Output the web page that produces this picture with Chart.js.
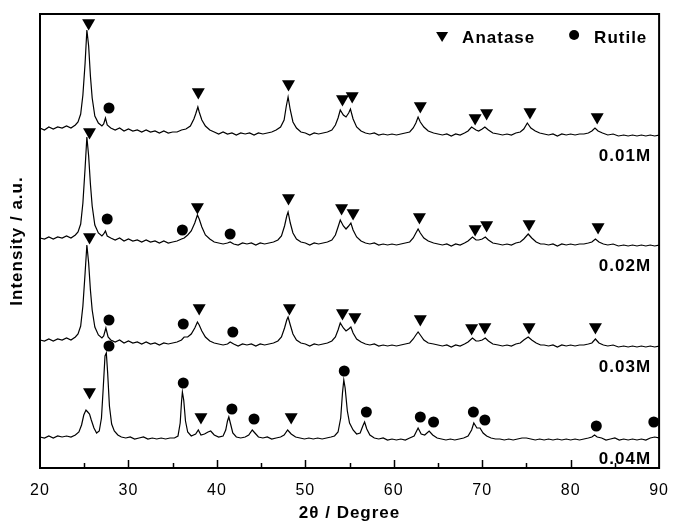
<!DOCTYPE html>
<html>
<head>
<meta charset="utf-8">
<script src="https://cdn.jsdelivr.net/npm/chart.js@4.4.1/dist/chart.umd.min.js"></script>
<style>
  html, body { margin: 0; padding: 0; background: #fff; }
  #wrap { width: 673px; height: 521px; }
</style>
</head>
<body>
<div id="wrap"><canvas id="xrd"></canvas></div>
<script>
// XRD patterns: [2theta, intensity (a.u., stacked)]
const sampleLabels = ["0.01M", "0.02M", "0.03M", "0.04M"];

const pattern01 = [[20,340],[20.5,338],[21,341],[21.5,339],[22,341],[22.5,340],[23,342],[23.5,340],[24,343],[24.3,346],[24.6,354],[24.85,373],[25.1,405],[25.3,438],[25.5,422],[25.7,392],[25.9,370],[26.2,352],[26.6,345],[27.0,342],[27.2,344],[27.4,350],[27.6,343],[28.0,340],[28.5,338],[29,340],[29.5,337],[30,339],[30.5,337],[31,338],[31.5,336],[32,338],[32.5,336],[33,337],[33.5,335],[34,337],[34.5,335],[35,336],[35.5,336],[36,338],[36.5,339],[37.0,342],[37.4,349],[37.6,354],[37.85,361],[38.0,356],[38.3,348],[38.7,342],[39.2,338],[39.7,336],[40.2,334],[40.7,336],[41.2,334],[41.7,335],[42.2,333],[42.7,335],[43.2,334],[43.7,335],[44.2,333],[44.7,335],[45.2,334],[45.7,335],[46.2,336],[46.7,338],[47.2,341],[47.6,348],[47.85,362],[48.05,371],[48.3,358],[48.6,346],[49.0,340],[49.5,336],[50,335],[50.5,333],[51,335],[51.5,334],[52,335],[52.5,336],[53.0,338],[53.4,343],[53.7,350],[53.95,358],[54.3,353],[54.6,351],[54.9,355],[55.1,359],[55.4,349],[55.8,341],[56.3,337],[56.8,335],[57.3,334],[57.8,335],[58.3,333],[58.8,334],[59.3,333],[59.8,334],[60.3,333],[60.8,334],[61.3,335],[61.8,336],[62.2,340],[62.5,345],[62.75,351],[63.0,346],[63.4,341],[63.9,337],[64.5,335],[65,334],[65.5,333],[66,334],[66.5,332],[67,334],[67.5,333],[68.0,335],[68.4,337],[68.8,341],[69.3,338],[69.6,337],[70.0,339],[70.3,341],[70.7,338],[71.2,335],[71.8,334],[72.3,333],[72.8,334],[73.3,333],[73.8,335],[74.3,336],[74.7,339],[75.1,345],[75.5,340],[76.0,337],[76.5,335],[77,334],[77.5,333],[78,334],[78.5,332],[79,334],[79.5,333],[80,334],[80.5,333],[81,334],[81.5,334],[82.0,335],[82.4,337],[82.75,340],[83.1,337],[83.6,335],[84.2,333],[84.8,334],[85.4,332],[86,333],[86.5,332],[87,333],[87.5,332],[88,333],[88.5,332],[89,333],[89.5,332],[90,333]];

const pattern02 = [[20,230],[20.5,229],[21,231],[21.5,229],[22,231],[22.5,230],[23,232],[23.5,230],[24,233],[24.3,236],[24.6,244],[24.85,265],[25.1,300],[25.3,331],[25.5,312],[25.7,284],[25.9,262],[26.2,243],[26.6,235],[27.0,232],[27.2,234],[27.4,237],[27.6,232],[28.0,230],[28.5,228],[29,230],[29.5,227],[30,229],[30.5,227],[31,228],[31.5,226],[32,228],[32.5,226],[33,227],[33.5,225],[34,227],[34.5,225],[35,226],[35.5,227],[36.0,229],[36.3,230],[36.7,233],[37.1,237],[37.5,245],[37.8,253],[38.0,249],[38.3,241],[38.7,233],[39.2,229],[39.7,226],[40.2,225],[40.7,224],[41.2,225],[41.5,226],[41.9,224],[42.4,223],[42.9,225],[43.4,224],[43.9,225],[44.4,223],[44.9,225],[45.4,224],[45.9,225],[46.4,226],[46.9,228],[47.3,232],[47.65,242],[47.9,252],[48.05,256],[48.3,245],[48.6,235],[49.0,229],[49.5,226],[50,225],[50.5,223],[51,225],[51.5,224],[52,225],[52.5,226],[53.0,228],[53.4,233],[53.7,241],[53.95,248],[54.3,242],[54.6,239],[54.9,242],[55.15,245],[55.4,238],[55.8,231],[56.3,227],[56.8,225],[57.3,224],[57.8,225],[58.3,223],[58.8,224],[59.3,223],[59.8,224],[60.3,223],[60.8,224],[61.3,225],[61.8,226],[62.2,230],[62.5,235],[62.75,239],[63.0,235],[63.4,230],[63.9,227],[64.5,225],[65,224],[65.5,223],[66,224],[66.5,222],[67,224],[67.5,223],[68.0,225],[68.4,227],[68.9,231],[69.3,228],[69.6,228],[70.0,229],[70.35,231],[70.7,228],[71.2,225],[71.8,224],[72.3,223],[72.8,224],[73.3,223],[73.8,225],[74.3,226],[74.7,229],[75.2,234],[75.6,230],[76.1,226],[76.6,224],[77,224],[77.5,223],[78,224],[78.5,222],[79,224],[79.5,223],[80,224],[80.5,223],[81,224],[81.5,224],[82.0,225],[82.4,226],[82.8,229],[83.2,226],[83.7,224],[84.2,223],[84.8,224],[85.4,222],[86,223],[86.5,222],[87,223],[87.5,222],[88,223],[88.5,222],[89,223],[89.5,222],[90,223]];

const pattern03 = [[20,128],[20.5,127],[21,129],[21.5,127],[22,129],[22.5,128],[23,130],[23.5,128],[24,131],[24.3,134],[24.6,142],[24.85,162],[25.1,195],[25.3,223],[25.5,205],[25.7,178],[25.9,158],[26.2,141],[26.6,133],[27.0,130],[27.2,132],[27.45,140],[27.7,131],[28.0,128],[28.5,126],[29,128],[29.5,125],[30,127],[30.5,125],[31,126],[31.5,124],[32,126],[32.5,124],[33,125],[33.5,123],[34,125],[34.5,124],[35,125],[35.5,126],[36.0,128],[36.3,131],[36.7,131],[37.1,134],[37.5,140],[37.8,146],[38.0,143],[38.3,137],[38.7,131],[39.2,127],[39.7,125],[40.2,124],[40.7,123],[41.2,124],[41.5,126],[41.9,124],[42.4,122],[42.9,124],[43.4,123],[43.9,124],[44.4,122],[44.9,124],[45.4,123],[45.9,124],[46.4,125],[46.9,127],[47.3,131],[47.65,140],[47.9,148],[48.05,151],[48.3,143],[48.6,134],[49.0,128],[49.5,125],[50,124],[50.5,122],[51,124],[51.5,123],[52,124],[52.5,125],[53.0,127],[53.4,131],[53.7,138],[53.95,145],[54.3,140],[54.6,137],[54.9,139],[55.15,141],[55.4,135],[55.8,129],[56.3,126],[56.8,124],[57.3,123],[57.8,124],[58.3,122],[58.8,123],[59.3,122],[59.8,123],[60.3,122],[60.8,123],[61.3,124],[61.8,125],[62.2,129],[62.5,133],[62.75,136],[63.0,133],[63.4,128],[63.9,125],[64.5,124],[65,123],[65.5,122],[66,123],[66.5,121],[67,123],[67.5,122],[68.0,124],[68.4,126],[68.9,130],[69.3,127],[69.6,127],[70.0,128],[70.35,130],[70.7,127],[71.2,124],[71.8,123],[72.3,122],[72.8,123],[73.3,122],[73.8,124],[74.3,125],[74.7,128],[75.2,131],[75.6,128],[76.1,125],[76.6,123],[77,123],[77.5,122],[78,123],[78.5,121],[79,123],[79.5,122],[80,123],[80.5,122],[81,123],[81.5,123],[82.0,124],[82.4,125],[82.8,129],[83.2,125],[83.7,123],[84.2,122],[84.8,123],[85.4,121],[86,122],[86.5,121],[87,122],[87.5,121],[88,122],[88.5,121],[89,122],[89.5,121],[90,122]];

const pattern04 = [[20,31],[20.5,30],[21,32],[21.5,30],[22,32],[22.5,31],[23,32],[23.5,31],[24,33],[24.4,36],[24.7,43],[24.95,53],[25.2,58],[25.4,56],[25.6,54],[25.8,48],[26.1,40],[26.4,35],[26.7,37],[26.95,50],[27.15,80],[27.35,112],[27.5,115],[27.65,95],[27.85,62],[28.1,44],[28.4,37],[28.8,33],[29.2,31],[29.7,30],[30.2,31],[30.7,29],[31.2,30],[31.7,31],[32.2,29],[32.7,30],[33.2,29],[33.7,30],[34.2,29],[34.7,30],[35.2,30],[35.6,32],[35.85,45],[36.0,66],[36.1,76],[36.25,68],[36.45,47],[36.7,36],[37.1,32],[37.6,34],[37.9,38],[38.2,33],[38.6,34],[39.0,36],[39.3,37],[39.7,33],[40.2,31],[40.7,32],[41.0,38],[41.2,47],[41.35,51],[41.55,44],[41.8,35],[42.2,31],[42.7,30],[43.2,31],[43.6,33],[44.0,38],[44.3,35],[44.7,31],[45.2,30],[45.7,31],[46.2,29],[46.7,30],[47.2,31],[47.6,33],[48.0,38],[48.4,34],[48.9,31],[49.4,30],[49.9,29],[50.4,30],[50.9,29],[51.4,30],[51.9,29],[52.4,30],[52.9,31],[53.3,32],[53.7,36],[54.0,50],[54.2,75],[54.35,88],[54.5,80],[54.75,57],[55.0,45],[55.4,38],[55.8,34],[56.2,35],[56.5,42],[56.7,46],[56.95,39],[57.3,33],[57.8,30],[58.3,29],[58.8,30],[59.3,28],[59.8,29],[60.3,28],[60.8,29],[61.3,28],[61.8,30],[62.3,32],[62.75,40],[63.1,34],[63.5,33],[64.0,37],[64.4,33],[64.9,30],[65.4,29],[65.9,28],[66.4,29],[66.9,28],[67.4,29],[67.9,30],[68.4,32],[68.8,38],[69.05,45],[69.4,40],[69.75,40],[70.1,35],[70.5,32],[71.0,30],[71.5,29],[72,29],[72.5,28],[73,29],[73.5,28],[74,29],[74.5,30],[75,30],[75.5,29],[76,28],[76.5,29],[77,28],[77.5,29],[78,28],[78.5,29],[79,28],[79.5,29],[80,28],[80.5,29],[81,28],[81.5,29],[82,30],[82.4,31],[82.7,33],[83.0,31],[83.5,30],[84,28],[84.5,29],[85,30],[85.5,28],[86,29],[86.5,28],[87,29],[87.5,28],[88,29],[88.5,28],[89,30],[89.5,31],[90,30]];

// phase markers: [2theta, height]
const anataseMarks = [
  [25.5,445],[37.9,376],[48.1,384],[54.2,369],[55.3,372],[63.0,362],[69.2,350],[70.5,355],[75.4,356],[83.0,351],
  [25.6,336],[37.8,261],[48.1,270],[54.1,260],[55.4,255],[62.9,251],[69.2,239],[70.5,243],[75.3,244],[83.1,241],
  [25.6,231],[38.0,160],[48.2,160],[54.2,155],[55.6,151],[63.0,149],[68.8,140],[70.3,141],[75.3,141],[82.8,141],
  [25.6,76],[38.2,51],[48.4,51]
];
const rutileMarks = [
  [27.8,360],
  [27.6,249],[36.1,238],[41.5,234],
  [27.8,148],[36.2,144],[41.8,136],
  [27.8,122],[36.2,85],[41.7,59],[44.2,49],[54.4,97],[56.9,56],[63.0,51],[64.5,46],[69.0,56],[70.3,48],[82.9,42],[89.4,46]
];
const xTicks = [20, 30, 40, 50, 60, 70, 80, 90];

const patterns = [pattern01, pattern02, pattern03, pattern04];
const toXY = arr => arr.map(p => ({ x: p[0], y: p[1] }));

const FONT = "'Liberation Sans', Arial, Helvetica, sans-serif";

// the original lettering is set a little wide
const spacingPlugin = {
  id: "spacing",
  beforeDraw(chart) { chart.ctx.letterSpacing = "1px"; }
};

const framePlugin = {
  id: "frame",
  afterDraw(chart) {
    const { ctx, chartArea: a, scales } = chart;
    const xs = scales.x, ys = scales.y;
    ctx.save();
    ctx.strokeStyle = "#000";
    ctx.lineWidth = 2;
    ctx.strokeRect(a.left, a.top, a.right - a.left, a.bottom - a.top);
    // inward ticks on bottom axis (major every 10, minor every 5)
    ctx.lineWidth = 1.5;
    for (let v = 25; v < 90; v += 5) {
      const px = Math.round(xs.getPixelForValue(v)) + 0.5;
      const len = v % 10 === 0 ? 8 : 5;
      ctx.beginPath();
      ctx.moveTo(px, a.bottom);
      ctx.lineTo(px, a.bottom - len);
      ctx.stroke();
    }
    // sample labels under each pattern
    ctx.letterSpacing = "1px";
    ctx.fillStyle = "#000";
    ctx.font = "bold 17px " + FONT;
    ctx.textAlign = "right";
    ctx.textBaseline = "middle";
    patterns.forEach((p, i) => {
      const lastY = p[p.length - 1][1];
      ctx.fillText(sampleLabels[i], a.right - 8, ys.getPixelForValue(lastY) + 21);
    });
    // legend
    const ly = a.top + 23;
    const tx = a.right - 217;
    ctx.beginPath();
    ctx.moveTo(tx - 6, ly - 5);
    ctx.lineTo(tx + 6, ly - 5);
    ctx.lineTo(tx, ly + 5);
    ctx.closePath();
    ctx.fill();
    ctx.textAlign = "left";
    ctx.fillText("Anatase", tx + 20, ly + 1);
    const cx = a.right - 85;
    ctx.beginPath();
    ctx.arc(cx, ly - 2, 5, 0, Math.PI * 2);
    ctx.fill();
    ctx.fillText("Rutile", cx + 20, ly + 1);
    ctx.restore();
  }
};

new Chart(document.getElementById("xrd"), {
  type: "scatter",
  data: {
    datasets: [
      ...patterns.map((p, i) => ({
        label: sampleLabels[i],
        data: toXY(p),
        showLine: true,
        borderColor: "#000",
        borderWidth: 1.2,
        pointRadius: 0,
        tension: 0
      })),
      {
        label: "Anatase",
        data: toXY(anataseMarks),
        pointStyle: "triangle",
        rotation: 180,
        pointRadius: 7.5,
        backgroundColor: "#000",
        borderColor: "#000",
        borderWidth: 0
      },
      {
        label: "Rutile",
        data: toXY(rutileMarks),
        pointStyle: "circle",
        pointRadius: 5.5,
        backgroundColor: "#000",
        borderColor: "#000",
        borderWidth: 0
      }
    ]
  },
  options: {
    responsive: true,
    maintainAspectRatio: false,
    animation: false,
    layout: { padding: { top: 14, right: 11, left: 0, bottom: 0 } },
    plugins: {
      legend: { display: false },
      tooltip: { enabled: false }
    },
    scales: {
      x: {
        type: "linear",
        min: 20,
        max: 90,
        afterBuildTicks: s => { s.ticks = xTicks.map(v => ({ value: v })); },
        afterFit: s => { s.height = 53; },
        ticks: { color: "#000", font: { family: FONT, size: 16 }, padding: 5, maxRotation: 0 },
        grid: { display: false },
        border: { display: false },
        title: {
          display: true,
          text: "2θ / Degree",
          color: "#000",
          font: { family: FONT, size: 17, weight: "bold" },
          padding: { top: 0, bottom: -3 }
        }
      },
      y: {
        min: 0,
        max: 454,
        afterFit: s => { s.width = 40; },
        ticks: { display: false },
        grid: { display: false },
        border: { display: false },
        title: {
          display: true,
          text: "Intensity / a.u.",
          color: "#000",
          font: { family: FONT, size: 17, weight: "bold" },
          padding: { top: 7, bottom: 0 }
        }
      }
    }
  },
  plugins: [spacingPlugin, framePlugin]
});
</script>
</body>
</html>
